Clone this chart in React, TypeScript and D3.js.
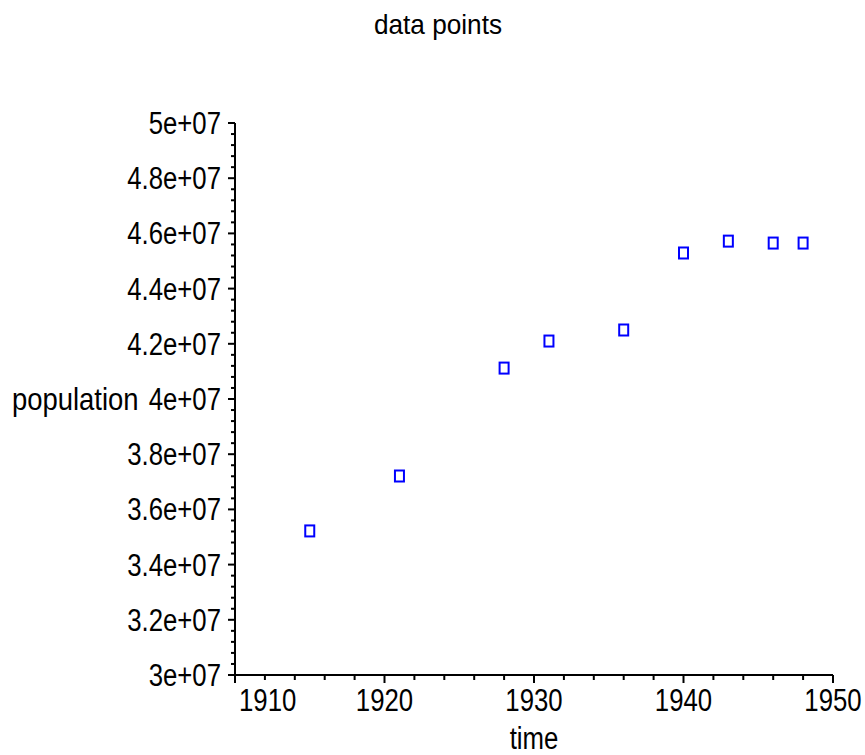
import React from "react";
import * as d3 from "d3";

const years = [1915, 1921, 1928, 1931, 1936, 1940, 1943, 1946, 1948];
const population = [
  3.522e7, 3.721e7, 4.112e7, 4.21e7, 4.25e7, 4.529e7, 4.572e7, 4.565e7, 4.565e7,
];
const xTicks = [1910, 1920, 1930, 1940, 1950];
const yTicks = [3e7, 3.2e7, 3.4e7, 3.6e7, 3.8e7, 4e7, 4.2e7, 4.4e7, 4.6e7, 4.8e7, 5e7];

const width = 865;
const height = 755;
const font = "'Liberation Sans', Arial, sans-serif";

const fmt = (v: number) => {
  const m = v / 1e7;
  return `${+m.toFixed(1)}e+07`;
};

// labels in the picture are narrow and a bit tall
const Label = ({ x, y, anchor, size, sx = 0.92, sy = 1.1, children }) => (
  <text
    transform={`translate(${x},${y}) scale(${sx},${sy})`}
    textAnchor={anchor}
    fontSize={size}
    fontFamily={font}
    fill="#000"
  >
    {children}
  </text>
);

export default function App() {
  const x = d3.scaleLinear().domain([1910, 1950]).range([235, 833]);
  const y = d3.scaleLinear().domain([3e7, 5e7]).range([675, 123]);

  // minor ticks every 2 years / 4e5
  const xMinor = d3.range(1910, 1950.1, 2);
  const yMinor = d3.range(3e7, 5e7 + 1, 4e5);

  return (
    <svg
      width={width}
      height={height}
      style={{ position: "absolute", left: 0, top: 0, background: "#fff" }}
    >
      <Label x={438} y={34} anchor="middle" size={27} sx={0.97} sy={1.05}>
        data points
      </Label>

      {/* axes */}
      <line x1={x(1910)} x2={x(1950)} y1={y(3e7)} y2={y(3e7)} stroke="#000" strokeWidth={2} />
      <line x1={x(1910)} x2={x(1910)} y1={y(3e7)} y2={y(5e7)} stroke="#000" strokeWidth={2} />

      {xMinor.map((t, i) => {
        const major = xTicks.includes(t);
        return (
          <line key={"xm" + i} x1={x(t)} x2={x(t)} y1={y(3e7)} y2={y(3e7) + (major ? 8 : 5)}
            stroke="#000" strokeWidth={2} />
        );
      })}
      {yMinor.map((t, i) => {
        const major = yTicks.some((v) => Math.abs(v - t) < 1);
        return (
          <line key={"ym" + i} x1={x(1910) - (major ? 7 : 4)} x2={x(1910)} y1={y(t)} y2={y(t)}
            stroke="#000" strokeWidth={2} />
        );
      })}

      {xTicks.map((t, i) => (
        <Label key={"xl" + i} x={i === 0 ? x(t) + 4 : x(t)} y={711}
          anchor={i === 0 ? "start" : "middle"} size={28}>
          {t}
        </Label>
      ))}
      {yTicks.map((t, i) => (
        <Label key={"yl" + i} x={221} y={y(t) + 11} anchor="end" size={28}>
          {fmt(t)}
        </Label>
      ))}

      <Label x={x(1930)} y={749} anchor="middle" size={28}>time</Label>
      <Label x={12} y={y(4e7) + 11} anchor="start" size={28} sx={0.98}>population</Label>

      {years.map((yr, i) => (
        <rect key={"p" + i} x={x(yr) - 4.5} y={y(population[i]) - 5.5} width={9} height={11}
          fill="none" stroke="#0000ff" strokeWidth={2} />
      ))}
    </svg>
  );
}
